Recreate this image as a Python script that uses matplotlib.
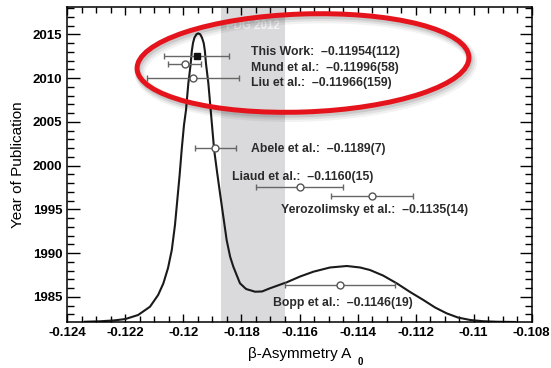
import numpy as np
import matplotlib
matplotlib.use('Agg')
import matplotlib.pyplot as plt
from matplotlib.patches import Ellipse
from matplotlib.ticker import MultipleLocator

plt.rcParams['font.family'] = ['Liberation Sans', 'DejaVu Sans']
plt.rcParams['font.weight'] = 'bold'
plt.rcParams['axes.unicode_minus'] = False

# measurements of the beta asymmetry
authors = ['This Work', 'Mund et al.', 'Liu et al.', 'Abele et al.',
           'Liaud et al.', 'Yerozolimsky et al.', 'Bopp et al.']
values = [-0.11954, -0.11996, -0.11966, -0.1189, -0.1160, -0.1135, -0.1146]
errors = [0.00112, 0.00058, 0.00159, 0.0007, 0.0015, 0.0014, 0.0019]
decimals = [5, 5, 5, 4, 4, 4, 4]
years = [2012.55, 2011.57, 2010.0, 2002.04, 1997.58, 1996.55, 1986.3]

# where each label starts (x, year)
label_x = [-0.11767, -0.11767, -0.11767, -0.11767, -0.11833, -0.11665, -0.11690]
label_y = [2012.95, 2011.15, 2009.45, 2001.9, 1998.65, 1994.95, 1984.25]

# PDG 2012 average band
pdg_lo, pdg_hi = -0.1187, -0.1165

# ideogram curve
curve_x = [-0.12339, -0.12287, -0.12236, -0.12200, -0.12156, -0.12115, -0.12087,
           -0.12069, -0.12053, -0.12040, -0.12029, -0.12021, -0.12013, -0.12006,
           -0.11998, -0.11991, -0.11983, -0.11975, -0.11971, -0.11967, -0.11962,
           -0.11955, -0.11949, -0.11942, -0.11936, -0.11930, -0.11926, -0.11922,
           -0.11914, -0.11906, -0.11900, -0.11894, -0.11884, -0.11874, -0.11851,
           -0.11839, -0.11828, -0.11805, -0.11784, -0.11753, -0.11729, -0.11702,
           -0.11644, -0.11598, -0.11552, -0.11495, -0.11437, -0.11391, -0.11357,
           -0.11312, -0.11265, -0.11219, -0.11173, -0.11133, -0.11093, -0.11054,
           -0.11012, -0.10968, -0.10920, -0.10857]
curve_y = [1982.15, 1982.20, 1982.31, 1982.46, 1982.92, 1983.87, 1985.21,
           1986.54, 1988.29, 1990.35, 1993.21, 1996.06, 1998.92, 2001.78,
           2004.63, 2006.35, 2009.40, 2011.60, 2013.10, 2014.00, 2014.62,
           2015.00, 2015.11, 2015.00, 2014.62, 2014.00, 2013.10, 2011.60,
           2009.40, 2006.35, 2004.06, 2001.78, 1999.26, 1996.86, 1991.49,
           1989.58, 1988.44, 1986.54, 1985.89, 1985.58, 1985.61, 1985.97,
           1986.66, 1987.32, 1987.87, 1988.35, 1988.52, 1988.35, 1988.06,
           1987.43, 1986.54, 1985.55, 1984.63, 1983.78, 1983.11, 1982.63,
           1982.35, 1982.21, 1982.15, 1982.12]

xticks = [-0.124, -0.122, -0.12, -0.118, -0.116, -0.114, -0.112, -0.11, -0.108]
xtick_labels = ['-0.124', '-0.122', '-0.12', '-0.118', '-0.116', '-0.114',
                '-0.112', '-0.11', '-0.108']

fig = plt.figure(figsize=(5.51, 3.68), dpi=100)
ax = fig.add_axes([67.3/551, 1-322/368, 464.4/551, 314.7/368])

ax.axvspan(pdg_lo, pdg_hi, color='#dadadc', lw=0, zorder=0)
ax.text((pdg_lo + pdg_hi)/2, 2015.95, 'PDG 2012', color='#f4f4f4',
        fontsize=8.3, ha='center', va='center', zorder=1)

ax.plot(curve_x, curve_y, color='#1a1a1a', lw=1.5, zorder=2)

ax.errorbar(values[1:], years[1:], xerr=errors[1:], fmt='o', ms=5,
            mfc='white', mec='#555555', mew=1, ecolor='#666666',
            elinewidth=1, capsize=2, capthick=1, zorder=3)
ax.errorbar(values[:1], years[:1], xerr=errors[:1], fmt='s', ms=5,
            mfc='#111111', mec='#111111', ecolor='#666666',
            elinewidth=1, capsize=2, capthick=1, zorder=3)

for name, v, e, d, lx, ly in zip(authors, values, errors, decimals, label_x, label_y):
    txt = f'{name}:  \u2013{abs(v):.{d}f}({round(e * 10**d)})'
    ax.text(lx, ly, txt, fontsize=8.8, color='#2a2a2a', ha='left', va='center', zorder=4)

ax.set_xlim(-0.124, -0.108)
ax.set_ylim(1982.12, 2018.09)
ax.set_xticks(xticks)
ax.set_xticklabels(xtick_labels)
ax.xaxis.set_minor_locator(MultipleLocator(0.0005))
ax.yaxis.set_major_locator(MultipleLocator(5))
ax.yaxis.set_minor_locator(MultipleLocator(1))
ax.tick_params(which='both', direction='in', top=True, right=True, width=1,
               labelsize=9.5, pad=3.5)
ax.tick_params(axis='y', which='major', length=9)
ax.tick_params(axis='y', which='minor', length=5)
ax.tick_params(axis='x', which='major', length=6)
ax.tick_params(axis='x', which='minor', length=4)
for s in ax.spines.values():
    s.set_linewidth(1.1)

ax.set_ylabel('Year of Publication', fontsize=11, labelpad=6)
ax.set_xlabel('\u03b2-Asymmetry A', fontsize=11, labelpad=6)
fig.text(360/551, 1-362/368, '0', fontsize=7, ha='center', va='center')

# red highlight ring with a soft shadow
ring_c, ring_w, ring_h, ring_a = (3.03, 3.05), 3.32, 0.98, 2
for k, a in enumerate([0.10, 0.07, 0.05]):
    fig.add_artist(Ellipse((ring_c[0] + 0.012 + 0.008*k, ring_c[1] - 0.025 - 0.008*k),
                           ring_w, ring_h, angle=ring_a,
                           transform=fig.dpi_scale_trans, fill=False,
                           ec='black', lw=4 + 2*k, alpha=a, zorder=9))
fig.add_artist(Ellipse(ring_c, ring_w, ring_h, angle=ring_a,
                       transform=fig.dpi_scale_trans, fill=False,
                       ec='#e5141c', lw=3.6, zorder=10))

fig.savefig('out.png', dpi=100)
